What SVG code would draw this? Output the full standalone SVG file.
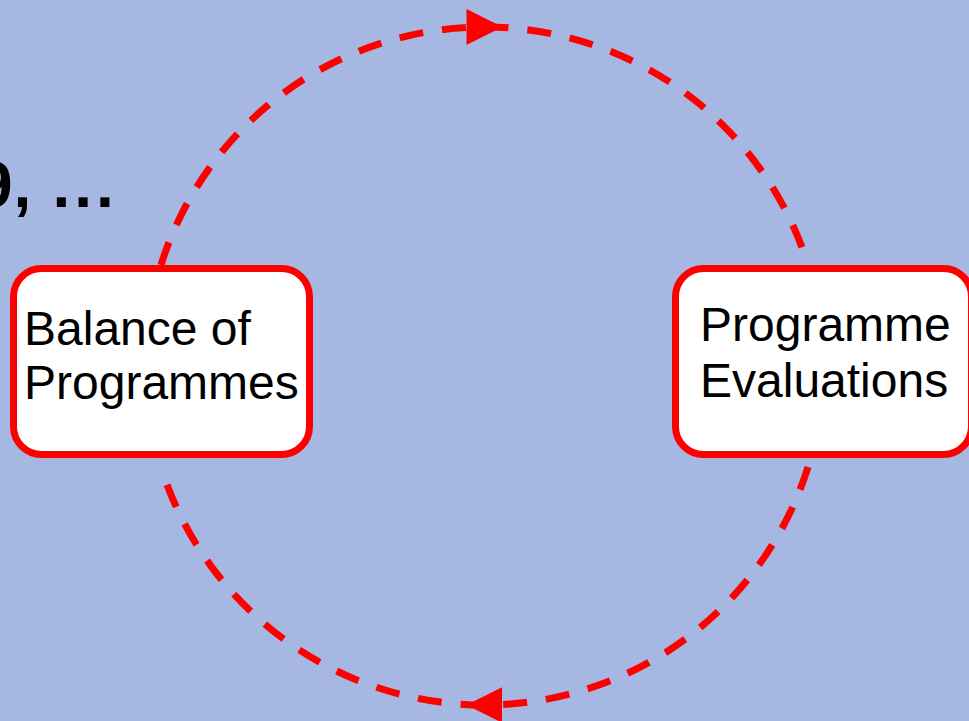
<svg xmlns="http://www.w3.org/2000/svg" width="969" height="721" viewBox="0 0 969 721">
  <style>
    .bg { fill: #a6b8e2; }
    .flow { fill: none; stroke: #ff0000; stroke-width: 7; stroke-dasharray: 24 19; }
    .box { fill: #ffffff; stroke: #ff0000; stroke-width: 7; }
    .label { font-family: "Liberation Sans", Arial, sans-serif; font-size: 48px; fill: #000000; }
    .title { font-family: "Liberation Sans", Arial, sans-serif; font-size: 64px; font-weight: bold; fill: #000000; }
  </style>
  <defs>
    <marker id="arrow" markerUnits="userSpaceOnUse" markerWidth="36" markerHeight="36" viewBox="0 0 36 36" refX="18" refY="18" orient="auto">
      <path d="M0,0 L36,18 L0,36 z" fill="#ff0000"/>
    </marker>
  </defs>

  <rect class="bg" x="0" y="0" width="969" height="721"/>

  <!-- heading text running in from the left edge -->
  <text class="title" x="-23 13.5 35 52.5 74.2 95.9" y="207">9, ...</text>

  <g id="connectors">
    <!-- upper arc: balance -> evaluations, arrowhead at the top -->
    <path class="flow" d="M161,265 A339,339 0 0 1 484.5,27" marker-end="url(#arrow)"/>
    <path class="flow" d="M484.5,27 A339,339 0 0 1 808,265"/>
    <!-- lower arc: evaluations -> balance, arrowhead at the bottom -->
    <path class="flow" d="M808,467 A339,339 0 0 1 484.5,705" marker-end="url(#arrow)"/>
    <path class="flow" d="M484.5,705 A339,339 0 0 1 161,467"/>
  </g>

  <g id="balance">
    <rect class="box" x="13.5" y="268.5" width="296" height="186" rx="28"/>
    <text class="label" x="24" y="345">Balance of</text>
    <text class="label" x="24" y="399">Programmes</text>
  </g>

  <g id="evaluations">
    <rect class="box" x="675.5" y="268.5" width="296" height="186" rx="28"/>
    <text class="label" x="700" y="341">Programme</text>
    <text class="label" x="700" y="397">Evaluations</text>
  </g>
</svg>
